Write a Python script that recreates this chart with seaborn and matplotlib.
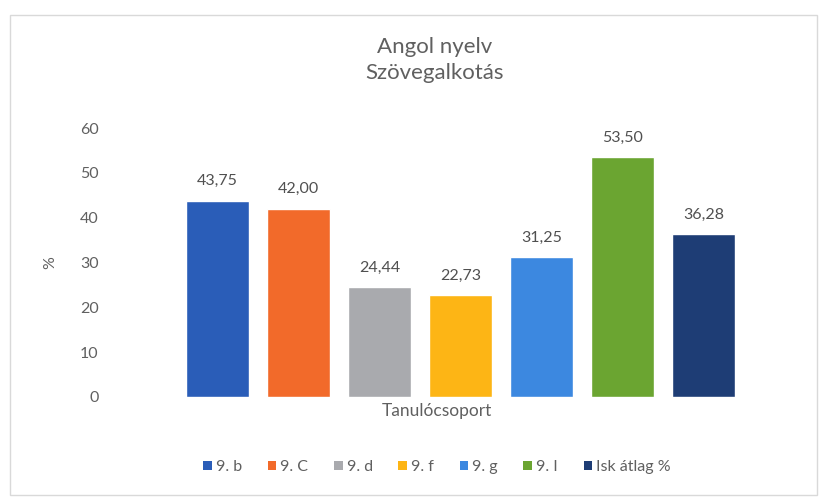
import matplotlib
matplotlib.use("Agg")
import matplotlib.pyplot as plt
import seaborn as sns
import pandas as pd
from matplotlib.patches import Patch, Rectangle

groups = ["9. b", "9. C", "9. d", "9. f", "9. g", "9. I", "Isk átlag %"]
values = [43.75, 42.00, 24.44, 22.73, 31.25, 53.50, 36.28]
value_labels = ["43,75", "42,00", "24,44", "22,73", "31,25", "53,50", "36,28"]
colors = ["#2A5DB8", "#F26A2A", "#A9AAAE", "#FDB515", "#3C88E0", "#6BA531", "#1E3D75"]
yticks = [0, 10, 20, 30, 40, 50, 60]

sns.set_theme(style="white")
plt.rcParams["font.family"] = ["Lato", "DejaVu Sans"]
txt = "#606060"

df = pd.DataFrame({"group": groups, "value": values})

fig = plt.figure(figsize=(8.19, 4.99), dpi=100)
fig.patch.set_facecolor("white")
fig.patches.append(Rectangle((0.012, 0.008), 0.985, 0.962, transform=fig.transFigure,
                             fill=False, edgecolor="#D9D9D9", linewidth=1.0))

ax = fig.add_axes([157/819, 1-397/499, 607/819, (397-128)/499])
sns.barplot(data=df, x="group", y="value", hue="group", palette=colors,
            order=groups, hue_order=groups, width=63/81, legend=False, ax=ax,
            saturation=1)
ax.set_xlim(-0.75, 6.75)
ax.set_ylim(0, 60)
ax.set_yticks(yticks)
ax.set_yticklabels([str(t) for t in yticks], color=txt, fontsize=11.5)
ax.tick_params(axis="y", length=0, pad=42)
ax.set_xticks([])
for s in ax.spines.values():
    s.set_visible(False)

for i, (v, lab) in enumerate(zip(values, value_labels)):
    ax.annotate(lab, (i, v), xytext=(0, 9), textcoords="offset points",
                ha="center", va="bottom", fontsize=11.5, color="#505050")

ax.set_ylabel("%", color=txt, fontsize=11.5, labelpad=4)
ax.yaxis.set_label_coords(-0.165, 0.5)
ax.set_xlabel("")
fig.text(437/819, 1-411/499, "Tanulócsoport", ha="center", va="center",
         fontsize=12.5, color=txt)

fig.text(435/819, 1-60/499, "Angol nyelv\nSzövegalkotás", ha="center", va="center",
         fontsize=16, color=txt, linespacing=1.35)

handles = [Patch(facecolor=c, edgecolor="none") for c in colors]
fig.legend(handles, groups, loc="center", bbox_to_anchor=(437/819, 1-467/499),
           ncol=7, frameon=False, handlelength=0.55, handleheight=0.55,
           handletextpad=0.25, columnspacing=1.6, labelcolor=txt,
           prop={"size": 11.5})

fig.savefig("out.png", dpi=100, facecolor="white")
